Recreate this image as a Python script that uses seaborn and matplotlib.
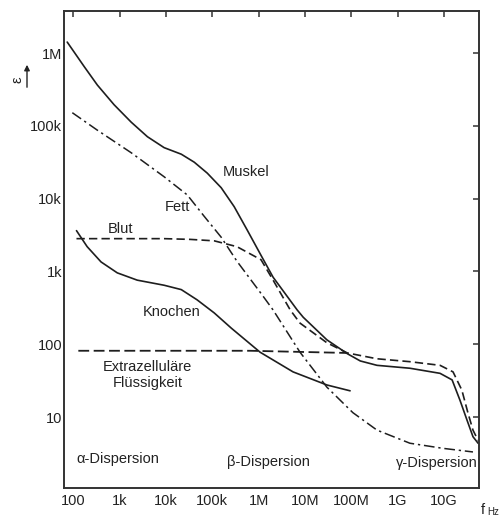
import numpy as np
import pandas as pd
import matplotlib
matplotlib.use("Agg")
import matplotlib.pyplot as plt
import seaborn as sns

# ---- data (log10 of frequency in Hz, log10 of relative permittivity) ----
muskel_logf = [1.87, 2.24, 2.52, 2.88, 3.25, 3.60, 3.96, 4.33, 4.61, 4.89, 5.19, 5.47, 5.75, 6.05,
               6.31, 6.83, 6.96, 7.47, 7.91, 8.19, 8.55, 9.26, 9.91, 10.17, 10.34, 10.49, 10.62, 10.73]
muskel_loge = [6.15, 5.81, 5.56, 5.29, 5.05, 4.85, 4.70, 4.61, 4.50, 4.35, 4.15, 3.89, 3.57, 3.22,
               2.92, 2.47, 2.37, 2.06, 1.87, 1.77, 1.71, 1.67, 1.60, 1.51, 1.23, 0.96, 0.73, 0.64]

fett_logf = [1.98, 2.52, 3.25, 3.96, 4.46, 4.82, 5.19, 5.53, 6.07, 6.31, 6.89, 7.47, 8.03, 8.55, 9.26, 9.97, 10.62]
fett_loge = [5.18, 4.94, 4.63, 4.30, 4.05, 3.76, 3.47, 3.14, 2.68, 2.47, 1.89, 1.41, 1.06, 0.82, 0.64, 0.57, 0.52]

blut_logf = [2.07, 3.96, 4.52, 5.04, 5.53, 6.05, 6.31, 6.68, 6.89, 7.47, 7.91, 8.55, 9.26, 9.91, 10.19, 10.38, 10.51, 10.62, 10.73]
blut_loge = [3.45, 3.45, 3.44, 3.42, 3.34, 3.16, 2.88, 2.47, 2.29, 2.02, 1.88, 1.80, 1.76, 1.71, 1.62, 1.37, 1.06, 0.82, 0.68]

knochen_logf = [2.07, 2.30, 2.60, 2.95, 3.38, 3.96, 4.33, 4.67, 5.04, 5.41, 6.03, 6.74, 7.47, 7.97]
knochen_loge = [3.56, 3.34, 3.13, 2.98, 2.88, 2.81, 2.75, 2.61, 2.43, 2.22, 1.89, 1.62, 1.44, 1.36]

extra_logf = [2.11, 5.82, 7.90]
extra_loge = [1.91, 1.91, 1.88]

x_ticks = [1e2, 1e3, 1e4, 1e5, 1e6, 1e7, 1e8, 1e9, 1e10]
x_ticklabels = ["100", "1k", "10k", "100k", "1M", "10M", "100M", "1G", "10G"]
y_ticks = [1e1, 1e2, 1e3, 1e4, 1e5, 1e6]
y_ticklabels = ["10", "100", "1k", "10k", "100k", "1M"]

curve_labels = ["Muskel", "Fett", "Blut", "Knochen", "Extrazelluläre\nFlüssigkeit"]
label_logf = [5.73, 4.24, 3.01, 4.13, 3.60]
label_loge = [4.37, 3.88, 3.58, 2.44, 1.58]

region_labels = ["α-Dispersion", "β-Dispersion", "γ-Dispersion"]
region_logf = [2.97, 6.20, 9.84]
region_loge = [0.42, 0.38, 0.37]

# ---- plotting ----
sns.set_theme(style="white")
plt.rcParams["font.family"] = ["Liberation Sans", "DejaVu Sans"]

ink = "#1e1e1e"
fig = plt.figure(figsize=(5.04, 5.22), dpi=100)
ax = fig.add_axes([63.5 / 504, 1 - 488 / 522, (479 - 63.5) / 504, (488 - 11) / 522])

def frame(lf, le):
    return pd.DataFrame({"f": np.power(10.0, lf), "eps": np.power(10.0, le)})

series = [
    (muskel_logf, muskel_loge, "-", 1.2),
    (fett_logf, fett_loge, (0, (7, 2.5, 1.5, 2.5)), 1.1),
    (blut_logf, blut_loge, (0, (5, 2.5)), 1.2),
    (knochen_logf, knochen_loge, "-", 1.2),
    (extra_logf, extra_loge, (0, (6, 2.5)), 1.3),
]
for lf, le, ls, lw in series:
    sns.lineplot(data=frame(lf, le), x="f", y="eps", ax=ax, color=ink,
                 linestyle=ls, linewidth=lw, estimator=None, sort=False)

ax.set_xscale("log")
ax.set_yscale("log")
ax.set_xlim(10 ** 1.79, 10 ** 10.75)
ax.set_ylim(10 ** 0.025, 10 ** 6.577)
ax.set_xticks(x_ticks)
ax.set_xticklabels(x_ticklabels)
ax.set_yticks(y_ticks)
ax.set_yticklabels(y_ticklabels)
ax.minorticks_off()
ax.set_xlabel("")
ax.set_ylabel("")
ax.tick_params(axis="both", which="major", direction="in", length=4, width=1.1,
               color="#333333", labelsize=10.5, labelcolor="#222222",
               top=True, right=True)
ax.tick_params(axis="y", pad=1)
ax.tick_params(axis="x", pad=4)
for sp in ax.spines.values():
    sp.set_color("#333333")
    sp.set_linewidth(1.4)
    sp.set_visible(True)

for t, lf, le in zip(curve_labels, label_logf, label_loge):
    ax.text(10 ** lf, 10 ** le, t, ha="center", va="center", fontsize=10.5,
            color="#222222", linespacing=1.15)
for t, lf, le in zip(region_labels, region_logf, region_loge):
    ax.text(10 ** lf, 10 ** le, t, ha="center", va="center", fontsize=10.5,
            color="#222222")

# axis annotations (epsilon with arrow, f_Hz)
fig.text(17 / 504, 1 - 80 / 522, "ε", rotation=90, ha="center", va="center",
         fontsize=10.5, color="#222222")
fig.add_artist(matplotlib.patches.FancyArrowPatch(
    (27 / 504, 1 - 90 / 522), (27 / 504, 1 - 62 / 522),
    transform=fig.transFigure, arrowstyle="-|>", mutation_scale=8,
    color="#222222", linewidth=1.0))
fig.text(483 / 504, 1 - 510 / 522, "f", ha="center", va="center",
         fontsize=10.5, color="#222222")
fig.text(493 / 504, 1 - 512 / 522, "Hz", ha="center", va="center",
         fontsize=7, color="#222222")

fig.savefig("out.png", dpi=100)
